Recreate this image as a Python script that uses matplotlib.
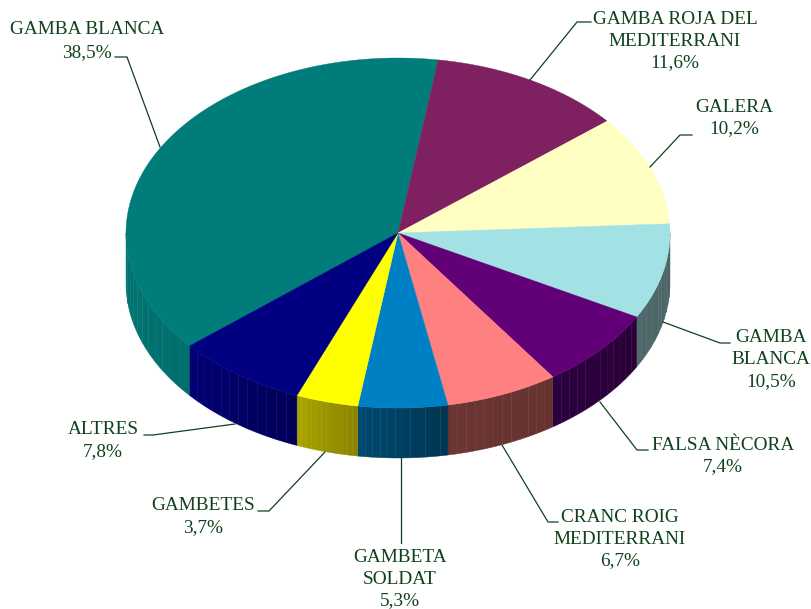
import numpy as np
import matplotlib
matplotlib.use("Agg")
import matplotlib.pyplot as plt
from matplotlib.colors import to_rgb

# the slices add up to 100 only with 8.8 for the second GAMBA BLANCA, its label says 10,5
slice_values = [38.5, 11.6, 10.2, 8.8, 7.4, 6.7, 5.3, 3.7, 7.8]
slice_labels = [
    ["GAMBA BLANCA", "38,5%"],
    ["GAMBA ROJA DEL", "MEDITERRANI", "11,6%"],
    ["GALERA", "10,2%"],
    ["GAMBA", "BLANCA", "10,5%"],
    ["FALSA NÈCORA", "7,4%"],
    ["CRANC ROIG", "MEDITERRANI", "6,7%"],
    ["GAMBETA", "SOLDAT", "5,3%"],
    ["GAMBETES", "3,7%"],
    ["ALTRES", "7,8%"],
]
top_colors = ["#007d7b", "#7f2060", "#ffffc4", "#a3e2e4", "#620078",
              "#ff8080", "#0080c4", "#ffff00", "#000080"]
# side wall colours, at the clockwise start and end of each slice
side_start = ["#00706e", "#551540", "#99997a", "#4a6062", "#2b0038",
              "#663230", "#003550", "#8a8300", "#000058"]
side_end = ["#007a78", "#551540", "#99997a", "#4f6a6c", "#2b0040",
            "#6a3533", "#004a72", "#aaa400", "#000074"]

text_color = "#0f421c"

# pie geometry in pixels
cx, cy = 398.0, 233.0
rx, ry = 272.0, 175.0
depth = 50.0
start_angle = 8.5 - 138.6

# text centre x, first line y, line step
label_pos = [(87, 30, 23), (675, 20, 21.5), (734, 107, 22), (771, 338, 22), (723, 445, 22),
             (620, 517, 22), (400, 557, 22), (203, 505, 23), (103, 430, 22)]
leaders = [
    [(115, 57), (127, 57), (160, 147)],
    [(591, 22), (577, 22), (530, 80)],
    [(692, 135), (680, 135), (650, 167)],
    [(730, 343), (720, 343), (663, 322)],
    [(648, 450), (637, 450), (600, 402)],
    [(558, 522), (548, 522), (502, 445)],
    [(401, 543), (401, 457)],
    [(258, 511), (269, 511), (325, 452)],
    [(144, 435), (153, 435), (235, 424)],
]


def edge_points(a0, a1, n=120):
    a = np.radians(np.linspace(a0, a1, n))
    return cx + rx * np.sin(a), cy - ry * np.cos(a)


fig = plt.figure(figsize=(8.11, 6.09), dpi=100)
ax = fig.add_axes([0, 0, 1, 1])
ax.set_xlim(0, 811)
ax.set_ylim(609, 0)
ax.axis("off")

edges = start_angle + np.cumsum([0] + slice_values) * 3.6

# side wall, only the front half of the ellipse shows
for i in range(len(slice_values)):
    a0, a1 = edges[i], edges[i + 1]
    c0, c1 = np.array(to_rgb(side_start[i])), np.array(to_rgb(side_end[i]))
    for shift in (0, 360):
        lo = max(a0 + shift, 90)
        hi = min(a1 + shift, 270)
        if lo >= hi:
            continue
        cuts = np.linspace(lo, hi, 13)
        for k in range(12):
            t = (0.5 * (cuts[k] + cuts[k + 1]) - (a0 + shift)) / (a1 - a0)
            x, y = edge_points(cuts[k], cuts[k + 1], 12)
            ax.fill(np.r_[x, x[::-1]], np.r_[y, y[::-1] + depth],
                    color=c0 + (c1 - c0) * t, lw=0.3, zorder=2)

# top face
for i in range(len(slice_values)):
    x, y = edge_points(edges[i], edges[i + 1])
    ax.fill(np.r_[cx, x], np.r_[cy, y], color=top_colors[i], lw=0.3, zorder=3)

for line in leaders:
    xs, ys = zip(*line)
    ax.plot(xs, ys, color=text_color, lw=0.9, zorder=4)

for lines, (tx, ty, step) in zip(slice_labels, label_pos):
    for j, s in enumerate(lines):
        ax.text(tx, ty + j * step, s, ha="center", va="center", color=text_color,
                family="Liberation Serif", fontsize=13.9)

fig.savefig("out.png", dpi=100)
